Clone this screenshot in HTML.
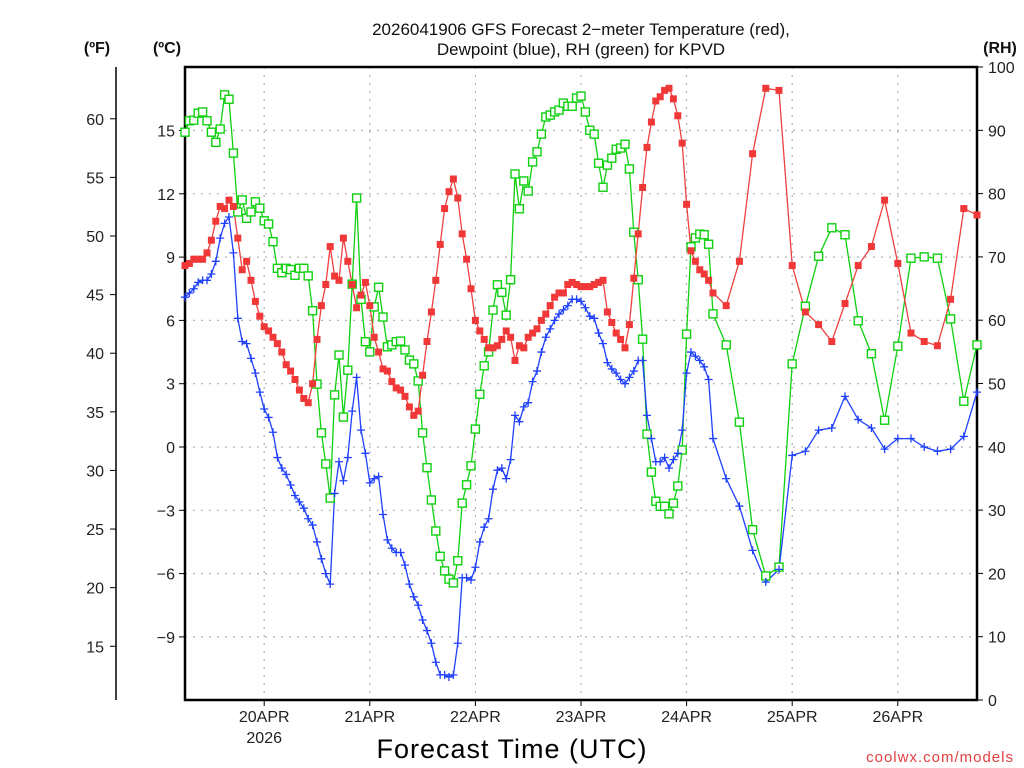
<!DOCTYPE html>
<html><head><meta charset="utf-8">
<style>
html,body{margin:0;padding:0;background:#fff;}
svg{display:block;font-family:"Liberation Sans","DejaVu Sans",sans-serif;}
.tk{font-size:16px;fill:#222;}
</style></head>
<body>
<svg id="chart" width="1024" height="768" viewBox="0 0 1024 768" xmlns="http://www.w3.org/2000/svg">
<g id="grid"></g>
<g id="axes"></g>
<g id="series"></g>
<text x="581" y="35" text-anchor="middle" font-size="17" fill="#111">2026041906 GFS Forecast 2−meter Temperature (red),</text>
<text x="581" y="55" text-anchor="middle" font-size="17" fill="#111">Dewpoint (blue), RH (green) for KPVD</text>
<text x="97" y="53" text-anchor="middle" font-size="16" font-weight="bold" fill="#111">(ºF)</text>
<text x="167" y="53" text-anchor="middle" font-size="16" font-weight="bold" fill="#111">(ºC)</text>
<text x="1000" y="53" text-anchor="middle" font-size="16" font-weight="bold" fill="#111">(RH)</text>
<text x="512" y="758" text-anchor="middle" font-size="27" fill="#000" letter-spacing="1">Forecast Time (UTC)</text>
<text x="1014" y="762" text-anchor="end" font-size="15" fill="#e04040" letter-spacing="1">coolwx.com/models</text>
</svg>
<script>
// ---- data ----
const hours = [];
for (let i = 0; i <= 120; i++) hours.push(i);
for (let h = 123; h <= 180; h += 3) hours.push(h);
const tempC = [8.6,8.7,8.9,8.9,8.9,9.2,9.8,10.7,11.4,11.3,11.7,11.4,9.9,8.4,8.8,7.9,6.9,6.2,5.7,5.5,5.2,4.9,4.5,3.9,3.6,3.2,2.7,2.3,2.1,3.0,
5.1,6.7,7.7,9.5,8.1,7.9,9.9,8.8,7.7,6.6,7.2,7.8,6.7,5.2,4.5,3.7,3.6,3.1,2.8,2.7,2.4,1.9,1.5,1.7,3.4,5.0,6.4,7.9,9.6,11.3,
12.1,12.7,11.8,10.1,8.9,7.5,6.0,5.5,5.1,4.7,4.7,4.8,5.1,5.5,5.2,4.1,4.8,4.7,5.2,5.4,5.6,6.0,6.3,6.7,7.1,7.3,7.3,7.7,7.8,7.7,
7.6,7.6,7.6,7.7,7.8,7.9,6.4,5.9,5.4,5.1,4.7,5.8,8.0,10.1,12.3,14.2,15.4,16.4,16.6,16.9,17.0,16.5,15.7,14.4,11.5,9.3,8.8,8.4,8.2,7.9,
7.3,6.7,8.8,13.9,17.0,16.9,8.6,6.4,5.8,5.0,6.8,8.6,9.5,11.7,8.7,5.4,5.0,4.8,7.0,11.3,11.0];
const dewC = [7.1,7.3,7.5,7.8,7.9,7.9,8.2,8.8,9.9,10.6,10.9,9.2,6.1,5.0,4.9,4.2,3.5,2.6,1.8,1.4,0.7,-0.5,-1.0,-1.3,-1.8,-2.3,-2.6,-2.9,-3.4,-3.7,
-4.5,-5.3,-6.0,-6.5,-2.2,-0.7,-1.6,-0.5,1.7,3.3,0.8,-0.3,-1.7,-1.5,-1.4,-3.2,-4.4,-4.8,-5.0,-5.0,-5.6,-6.5,-7.1,-7.5,-8.2,-8.7,-9.3,-10.2,-10.8,-10.8,
-10.9,-10.8,-9.3,-6.2,-6.2,-6.3,-5.7,-4.5,-3.8,-3.4,-2.0,-1.1,-1.0,-1.5,-0.6,1.5,1.2,1.9,2.1,3.1,3.6,4.5,5.2,5.6,6.0,6.3,6.5,6.7,7.0,7.0,
6.9,6.6,6.2,6.1,5.4,4.9,4.0,3.7,3.5,3.2,3.0,3.3,3.6,4.1,4.1,1.5,0.4,-0.7,-0.7,-0.5,-1.0,-0.6,-0.3,0.8,3.5,4.5,4.3,4.1,3.8,3.2,
0.4,-1.5,-2.8,-4.9,-6.4,-5.8,-0.4,-0.2,0.8,0.9,2.4,1.3,0.9,-0.1,0.4,0.4,0.0,-0.2,-0.1,0.5,2.6];
const rh = [89.7,91.5,91.6,92.7,92.9,91.5,89.7,88.1,90.2,95.6,94.9,86.4,77.1,79.0,76.1,77.1,78.7,77.7,75.7,75.2,72.4,68.2,67.5,68.2,68.0,67.1,68.2,68.2,67.0,61.5,
49.9,42.2,37.3,31.9,48.2,54.5,44.7,52.1,65.7,79.3,63.3,56.6,55.0,62.1,65.2,60.5,55.8,56.1,56.6,56.7,55.3,53.7,53.1,50.4,42.2,36.7,31.6,26.7,22.7,20.4,
19.1,18.5,22.0,31.1,34.0,37.0,42.8,48.3,52.8,55.0,61.6,65.6,64.4,60.8,66.4,83.1,77.6,82.0,80.4,85.0,86.6,89.4,92.1,92.4,92.9,93.2,94.3,93.8,93.8,95.1,
95.4,92.9,90.0,89.4,84.8,81.0,84.5,85.6,87.0,87.2,87.8,83.9,73.9,66.4,57.0,42.0,36.0,31.4,30.6,30.6,29.4,31.1,33.8,39.5,57.8,71.6,73.0,73.6,73.5,72.0,
61.0,56.1,43.9,26.9,19.6,21.0,53.1,62.2,70.1,74.6,73.5,59.9,54.7,44.2,55.9,69.8,70.0,69.8,60.2,47.2,56.1];
const cTicks = [15,12,9,6,3,0,-3,-6,-9];
const fTicks = [60,55,50,45,40,35,30,25,20,15];
const rhTicks = [0,10,20,30,40,50,60,70,80,90,100];
const dateTicks = ["20APR","21APR","22APR","23APR","24APR","25APR","26APR"];
const dateHours = [18,42,66,90,114,138,162];

// ---- axis functions ----
const L=185,R=977,T=67,B=700;
const xOf = h => L + (R-L)*h/180;
const yC = c => 447 - 21.1*c;
const yF = f => yC((f-32)/1.8);
const yRH = v => B - (B-T)*v/100;
const NS="http://www.w3.org/2000/svg";
function mk(parent, tag, attrs){const e=document.createElementNS(NS,tag);for(const k in attrs)e.setAttribute(k,attrs[k]);parent.appendChild(e);return e;}
const grid=document.getElementById('grid'), axes=document.getElementById('axes'), ser=document.getElementById('series');

cTicks.forEach(c=>{
  const y=yC(c);
  const g=mk(grid,'line',{x1:L,x2:R,y1:y,y2:y,stroke:'#b0b0b0','stroke-width':1.2,'stroke-dasharray':'2,6'});
  
  
  mk(axes,'line',{x1:L-6,x2:L,y1:y,y2:y,stroke:'#000','stroke-width':1});
  const t=mk(axes,'text',{x:L-10,y:y+6,'text-anchor':'end',class:'tk'});t.textContent=(c<0?'−'+(-c):c);
  
  
});
dateHours.forEach((h,i)=>{
  const x=xOf(h);
  const g=mk(grid,'line',{x1:x,x2:x,y1:T,y2:B,stroke:'#b0b0b0','stroke-width':1.2,'stroke-dasharray':'2,6'});
  
  
  mk(axes,'line',{x1:x,x2:x,y1:B,y2:B+6,stroke:'#000','stroke-width':1});
  const t=mk(axes,'text',{x:x,y:B+22,'text-anchor':'middle',class:'tk'});t.textContent=dateTicks[i];
  
  
});
const yr=mk(axes,'text',{x:xOf(18),y:B+43,'text-anchor':'middle',class:'tk'});yr.textContent='2026';


// F axis
mk(axes,'line',{x1:116,x2:116,y1:T,y2:B,stroke:'#000','stroke-width':1.5});
fTicks.forEach(f=>{
  const y=yF(f);
  mk(axes,'line',{x1:110,x2:116,y1:y,y2:y,stroke:'#000','stroke-width':1});
  const t=mk(axes,'text',{x:104,y:y+6,'text-anchor':'end',class:'tk'});t.textContent=f;
  
  
});
rhTicks.forEach(v=>{
  const y=yRH(v);
  mk(axes,'line',{x1:R,x2:R+6,y1:y,y2:y,stroke:'#000','stroke-width':1});
  const t=mk(axes,'text',{x:988,y:y+6,'text-anchor':'start',class:'tk'});t.textContent=v;
  
  
});
const box=mk(axes,'rect',{x:L,y:T,width:R-L,height:B-T,fill:'none',stroke:'#000','stroke-width':2.5});



function line(vals, yfn, color, name){
  const pts=vals.map((v,i)=>xOf(hours[i]).toFixed(1)+','+yfn(v).toFixed(1)).join(' ');
  const p=mk(ser,'polyline',{points:pts,fill:'none',stroke:color,'stroke-width':1.3});
  
  
}
line(rh,yRH,'#10d010','rh');
line(dewC,yC,'#2040ff','dewpoint');
line(tempC,yC,'#f04040','temperature');
rh.forEach((v,i)=>{
  const r=mk(ser,'rect',{x:xOf(hours[i])-4,y:yRH(v)-4,width:8,height:8,fill:'#fff',stroke:'#10d010','stroke-width':1.4});
  
  
});
dewC.forEach((v,i)=>{
  const x=xOf(hours[i]),y=yC(v);
  const p=mk(ser,'path',{d:`M${x-4},${y}H${x+4}M${x},${y-4}V${y+4}`,stroke:'#2040ff','stroke-width':1.3});
  
  
});
tempC.forEach((v,i)=>{
  const r=mk(ser,'rect',{x:xOf(hours[i])-3.5,y:yC(v)-3.5,width:7,height:7,fill:'#f03838'});
  
  
});
</script>
</body></html>
